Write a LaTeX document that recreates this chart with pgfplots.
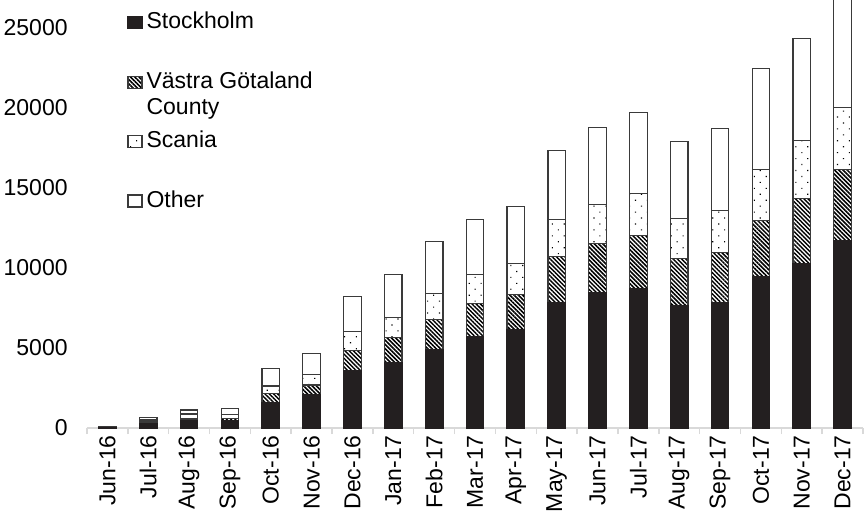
\documentclass[border=0pt]{standalone}
\usepackage{fontspec}
\setmainfont{Liberation Sans}
\usepackage{pgfplots}
\pgfplotsset{compat=1.18}
\usetikzlibrary{patterns.meta}

\definecolor{stk}{HTML}{231F20}
\definecolor{bdr}{HTML}{3A3A3A}
\definecolor{axgray}{HTML}{D9D9D9}

\newcommand{\lblfont}{\fontsize{11.5}{13.3}\selectfont}

\pgfplotsset{
  segment/.style={
    draw=bdr, line width=0.6pt,
    legend image code/.code={\draw[##1] (0pt,-3pt) rectangle (7pt,3pt);}
  },
}

\begin{document}
\begin{tikzpicture}
\begin{axis}[
  width=388pt, height=214pt, scale only axis,
  ybar stacked, bar width=8.75pt,
  xmin=-0.5, xmax=18.5, ymin=0, ymax=26750,
  axis x line*=bottom, axis y line*=left,
  x axis line style={draw=axgray, line width=0.75pt},
  y axis line style={draw=none},
  xtick={0,...,18},
  xticklabels={Jun-16,Jul-16,Aug-16,Sep-16,Oct-16,Nov-16,Dec-16,Jan-17,Feb-17,Mar-17,Apr-17,May-17,Jun-17,Jul-17,Aug-17,Sep-17,Oct-17,Nov-17,Dec-17},
  minor xtick={-0.5,0.5,...,18.5},
  tick align=outside,
  major tick length=0pt, minor tick length=3pt,
  major x tick style={draw=none},
  minor x tick style={draw=axgray, line width=0.75pt},
  ytick={0,5000,10000,15000,20000,25000},
  ytick style={draw=none},
  scaled y ticks=false,
  /pgf/number format/1000 sep={},
  /pgf/number format/assume math mode=true,
  tick label style={font=\lblfont, inner sep=0pt},
  xticklabel style={rotate=90, anchor=east},
  xticklabel shift=3.5pt,
  yticklabel style={anchor=east},
  yticklabel shift=9.5pt,
  clip=true,
  legend style={at={(axis description cs:0,1)}, anchor=north west,
    xshift=20pt, yshift=-6.2pt, draw=none, fill=none, inner sep=0pt,
    row sep=19.7pt, column sep=0pt,
    nodes={inner sep=0pt, inner xsep=2pt, text height=8pt, text depth=2pt, font=\lblfont}},
  legend cell align=left,
]
\coordinate (O) at (rel axis cs:0,0);

% Stockholm
\addplot[segment, fill=stk, draw=stk] coordinates {
  (0,50) (1,280) (2,440) (3,440) (4,1580) (5,2070) (6,3590) (7,4090)
  (8,4905) (9,5740) (10,6135) (11,7845) (12,8490) (13,8740) (14,7655)
  (15,7865) (16,9470) (17,10300) (18,11720)};
% Vastra Gotaland County
\addplot[segment, fill=white,
  postaction={pattern={Lines[angle=-45,distance=1.5pt,line width=0.75pt]}, pattern color=black}]
  coordinates {
  (0,10) (1,95) (2,125) (3,170) (4,590) (5,620) (6,1250) (7,1545)
  (8,1855) (9,2060) (10,2205) (11,2895) (12,3060) (13,3290) (14,2920)
  (15,3085) (16,3500) (17,4025) (18,4420)};
% Scania
\addplot[segment, fill=white,
  postaction={pattern={Dots[distance=4.2pt,angle=45,radius=0.4pt]}, pattern color=black}]
  coordinates {
  (0,10) (1,125) (2,310) (3,240) (4,455) (5,650) (6,1190) (7,1295)
  (8,1670) (9,1790) (10,1920) (11,2270) (12,2440) (13,2645) (14,2535)
  (15,2665) (16,3205) (17,3625) (18,3910)};
% Other
\addplot[segment, fill=white] coordinates {
  (0,10) (1,170) (2,250) (3,385) (4,1105) (5,1330) (6,2210) (7,2660)
  (8,3250) (9,3420) (10,3605) (11,4330) (12,4770) (13,5025) (14,4815)
  (15,5085) (16,6275) (17,6395) (18,7000)};

\legend{Stockholm, {\vtop{\hbox{Västra Götaland}\hbox{County}}}, Scania, Other}
\end{axis}
\pgfresetboundingbox
\path[use as bounding box] ([shift={(-43.5pt,-43.5pt)}]O) rectangle ([shift={(389.5pt,214pt)}]O);
\end{tikzpicture}
\end{document}
